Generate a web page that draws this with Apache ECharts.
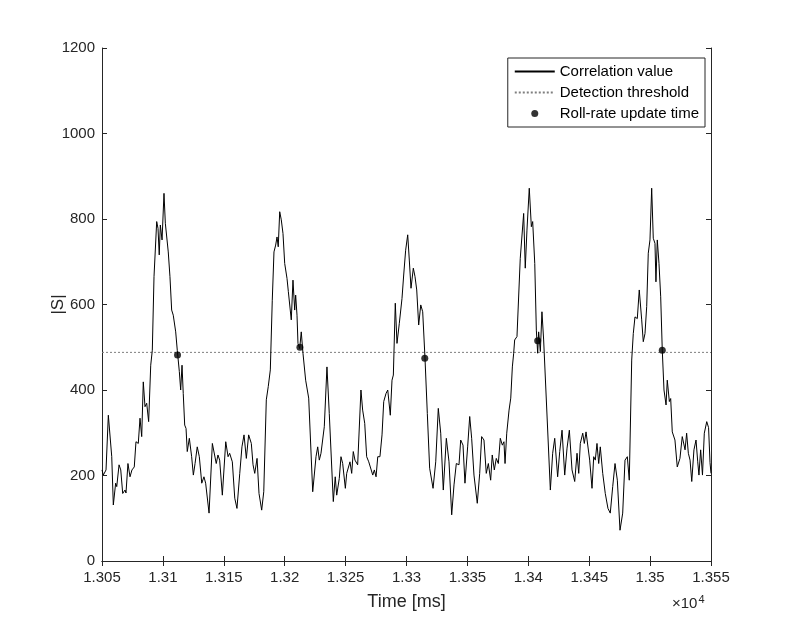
<!DOCTYPE html>
<html>
<head>
<meta charset="utf-8">
<script src="https://cdn.jsdelivr.net/npm/echarts@6/dist/echarts.min.js"></script>
<style>
html,body{margin:0;padding:0;background:#fff;}
#chart{width:786px;height:629px;}
</style>
</head>
<body>
<div id="chart"></div>
<script>
// Time samples (ms) of the correlation trace
const time = [13050.0,13051.1,13053.3,13055.2,13058.0,13059.3,13061.2,13062.1,13064.0,13065.4,13067.0,13068.9,13069.7,13071.3,13073.0,13074.6,13076.5,13077.9,13079.8,13081.2,13082.6,13083.9,13085.3,13086.7,13088.3,13090.0,13091.3,13092.7,13093.5,13094.9,13096.0,13097.0,13097.9,13099.3,13100.9,13102.0,13103.1,13104.4,13105.8,13107.2,13108.5,13110.5,13111.8,13113.5,13114.6,13115.7,13116.7,13117.9,13119.0,13120.0,13121.7,13123.6,13125.0,13126.4,13128.2,13129.9,13131.9,13133.7,13135.1,13137.9,13140.6,13142.0,13143.8,13145.2,13146.6,13148.8,13151.6,13153.5,13154.8,13157.0,13159.0,13160.8,13163.1,13164.9,13166.6,13168.5,13170.4,13172.6,13174.0,13175.4,13177.3,13178.9,13181.1,13182.8,13184.9,13186.5,13188.2,13189.8,13191.2,13192.6,13193.7,13194.7,13195.9,13197.2,13198.6,13200.0,13201.9,13203.0,13204.1,13205.4,13206.8,13208.2,13209.0,13210.1,13210.9,13212.3,13213.6,13215.0,13217.2,13219.7,13223.0,13225.7,13227.1,13228.4,13229.8,13232.5,13234.7,13236.6,13239.9,13241.5,13242.7,13244.8,13246.2,13247.6,13249.8,13250.9,13253.6,13255.0,13256.3,13257.7,13259.9,13262.6,13264.0,13265.7,13267.3,13269.0,13272.3,13273.6,13275.0,13276.4,13278.2,13279.9,13281.3,13283.2,13284.6,13286.7,13288.1,13289.2,13290.8,13292.2,13294.1,13296.3,13297.7,13299.3,13301.0,13302.3,13303.7,13305.6,13307.0,13308.4,13310.0,13311.7,13313.3,13315.2,13317.1,13319.0,13321.8,13324.0,13326.1,13328.1,13330.2,13332.7,13334.9,13337.1,13339.0,13340.9,13343.1,13344.5,13346.4,13348.0,13350.2,13351.9,13353.5,13355.4,13358.1,13360.1,13361.7,13363.6,13365.5,13367.2,13369.1,13370.4,13372.1,13373.7,13375.4,13377.0,13378.7,13380.0,13380.9,13382.3,13384.2,13385.6,13386.9,13388.0,13388.8,13390.7,13392.1,13393.4,13394.3,13396.2,13397.5,13398.9,13400.8,13402.5,13403.6,13405.3,13406.6,13407.7,13408.5,13409.9,13411.2,13412.6,13414.0,13418.1,13420.0,13421.7,13424.1,13425.8,13427.7,13429.9,13431.8,13433.7,13435.9,13438.1,13440.0,13441.4,13442.7,13444.7,13446.0,13447.4,13449.0,13450.4,13452.3,13453.7,13455.0,13456.4,13457.8,13459.1,13461.1,13463.2,13465.4,13467.3,13469.3,13471.2,13473.1,13475.3,13477.5,13479.4,13481.3,13482.9,13484.9,13486.2,13487.6,13489.5,13491.1,13493.1,13494.4,13495.8,13497.2,13498.5,13499.9,13501.3,13502.6,13504.0,13504.8,13505.9,13507.3,13508.7,13510.0,13511.4,13513.1,13514.1,13515.8,13516.9,13518.2,13520.4,13522.3,13524.5,13526.4,13528.7,13530.0,13531.4,13532.8,13534.2,13536.0,13537.7,13539.1,13540.1,13541.5,13543.0,13544.5,13546.5,13548.0,13549.2,13550.0];
// Correlation value |S|
const corr = [213,201,213,341,244,131,182,174,225,213,158,166,159,228,197,213,220,279,275,334,291,419,361,369,326,458,493,665,669,794,778,716,786,751,860,790,786,723,665,587,575,536,493,443,400,458,392,318,310,256,287,244,201,228,267,244,182,197,182,112,275,279,228,248,236,154,279,244,252,232,147,123,205,267,295,240,295,275,225,205,240,158,119,162,377,408,447,610,723,739,758,735,817,798,766,696,661,630,634,564,657,587,622,575,509,497,536,486,423,381,162,244,267,236,252,314,454,345,139,197,154,193,244,228,170,205,232,205,256,236,225,400,353,322,244,232,201,213,197,244,244,295,373,392,400,341,423,435,603,509,556,614,669,727,763,704,638,685,665,634,552,599,583,474,345,217,170,232,357,299,166,287,232,108,178,228,225,283,271,182,267,338,287,201,135,205,291,283,205,228,189,248,213,240,228,287,271,279,228,299,353,381,454,486,517,525,521,708,704,813,685,774,872,782,794,696,540,486,536,490,583,517,513,166,252,287,197,256,306,201,264,306,213,186,252,205,275,299,275,302,306,236,170,244,236,275,228,267,205,158,123,112,174,228,189,72,112,236,244,189,470,532,571,567,634,564,513,532,595,720,751,872,755,743,653,751,696,618,493,400,365,423,373,380,302,283,220,240,291,260,299,252,236,186,260,283,232,201,260,201,299,326,312,230,205];
// Detection threshold
const threshold = 488;
// Roll-rate update instants
const updateTime = [13112.0, 13212.5, 13315.0, 13407.7, 13510.0];
const updateValue = [482, 500, 474, 515, 493];
// Axis ranges
const xMin = 13050, xMax = 13550, xStep = 50;
const yMin = 0, yMax = 1200, yStep = 200;
const seriesNames = ['Correlation value', 'Detection threshold', 'Roll-rate update time'];

const axisColor = '#262626';
const font = 'Liberation Sans, Arial, Helvetica, sans-serif';

const chart = echarts.init(document.getElementById('chart'), null, {renderer: 'canvas'});

const xFmt = v => String(+(v / 10000).toFixed(4));
const yFmt = v => String(v);

const baseX = {
  type: 'value', min: xMin, max: xMax, interval: xStep,
  axisLine: {show: true, lineStyle: {color: axisColor, width: 1}},
  axisTick: {show: true, inside: true, length: 5, lineStyle: {color: axisColor}},
  splitLine: {show: false}
};
const baseY = {
  type: 'value', min: yMin, max: yMax, interval: yStep,
  axisLine: {show: true, lineStyle: {color: axisColor, width: 1}},
  axisTick: {show: true, inside: true, length: 5, lineStyle: {color: axisColor}},
  splitLine: {show: false}
};

const option = {
  backgroundColor: '#ffffff',
  animation: false,
  textStyle: {fontFamily: font},
  grid: {left: 102, right: 75, top: 48, bottom: 68, containLabel: false},
  xAxis: [
    Object.assign({}, baseX, {
      position: 'bottom',
      name: 'Time [ms]', nameLocation: 'middle', nameGap: 32, nameMoveOverlap: false,
      nameTextStyle: {color: axisColor, fontSize: 18, fontFamily: font},
      axisLabel: {color: axisColor, fontSize: 15, fontFamily: font, margin: 9, formatter: xFmt}
    }),
    Object.assign({}, baseX, {position: 'top', axisLabel: {show: false}})
  ],
  yAxis: [
    Object.assign({}, baseY, {
      position: 'left',
      name: '|S|', nameLocation: 'middle', nameGap: 35, nameRotate: 90, nameMoveOverlap: false,
      nameTextStyle: {color: axisColor, fontSize: 17, fontFamily: font},
      axisLabel: {color: axisColor, fontSize: 15, fontFamily: font, margin: 7, formatter: yFmt}
    }),
    Object.assign({}, baseY, {position: 'right', axisLabel: {show: false}})
  ],
  legend: {
    orient: 'vertical',
    right: 81, top: 58,
    backgroundColor: '#ffffff',
    borderColor: axisColor, borderWidth: 1,
    padding: [6, 6, 6, 6],
    itemWidth: 40, itemHeight: 7, itemGap: 6,
    textStyle: {color: '#000', fontSize: 15, fontFamily: font, lineHeight: 15},
    data: [
      {name: seriesNames[0], itemStyle: {opacity: 0}},
      {name: seriesNames[1], itemStyle: {opacity: 0}},
      {name: seriesNames[2], icon: 'circle'}
    ]
  },
  graphic: [
    {
      type: 'text', left: 672, top: 594,
      style: {
        text: '×10{s|4}',
        fill: axisColor,
        font: '15px ' + font,
        rich: {s: {fontSize: 11, verticalAlign: 'top', padding: [0, 0, 9, 1], fill: axisColor, fontFamily: font}}
      }
    }
  ],
  series: [
    {
      name: seriesNames[0], type: 'line',
      xAxisIndex: 0, yAxisIndex: 0,
      data: time.map((t, i) => [t, corr[i]]),
      symbol: 'none', showSymbol: false,
      lineStyle: {color: '#000000', width: 1},
      itemStyle: {color: '#000000'},
      z: 2
    },
    {
      name: seriesNames[1], type: 'line',
      xAxisIndex: 0, yAxisIndex: 0,
      data: [[xMin, threshold], [xMax, threshold]],
      symbol: 'none', showSymbol: false,
      lineStyle: {color: '#7f7f7f', width: 1, type: [2, 2]},
      itemStyle: {color: '#7f7f7f'},
      z: 1
    },
    {
      name: seriesNames[2], type: 'scatter',
      xAxisIndex: 0, yAxisIndex: 0,
      data: updateTime.map((t, i) => [t, updateValue[i]]),
      symbol: 'circle', symbolSize: 7,
      itemStyle: {color: '#000000'},
      z: 3
    }
  ]
};
chart.setOption(option);
</script>
</body>
</html>
